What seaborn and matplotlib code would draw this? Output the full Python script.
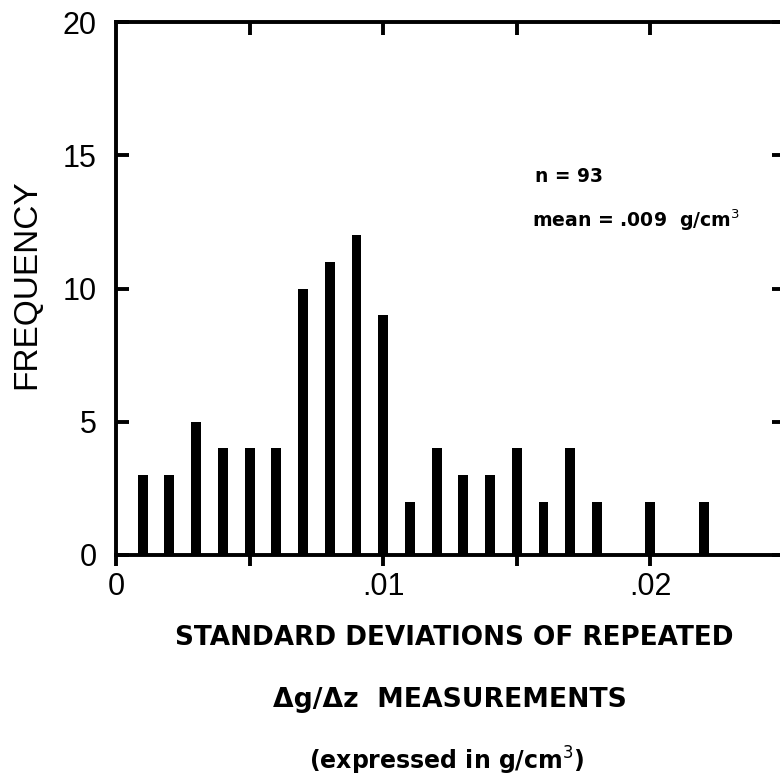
import matplotlib
matplotlib.use("Agg")
import matplotlib.pyplot as plt
import seaborn as sns
import pandas as pd
from matplotlib.ticker import FixedLocator, NullFormatter

# ---- data ----
std_dev = [0.001, 0.002, 0.003, 0.004, 0.005, 0.006, 0.007, 0.008, 0.009, 0.010, 0.011,
           0.012, 0.013, 0.014, 0.015, 0.016, 0.017, 0.018, 0.019, 0.020, 0.021, 0.022]
frequency = [3, 3, 5, 4, 4, 4, 10, 11, 12, 9, 2, 4, 3, 3, 4, 2, 4, 2, 0, 2, 0, 2]
x_tick_values = [0, 0.01, 0.02]
x_tick_labels = ["0", ".01", ".02"]
y_tick_values = [0, 5, 10, 15, 20]

df = pd.DataFrame({"sd": std_dev, "freq": frequency})

sns.set_style("white")
plt.rcParams["font.family"] = ["Liberation Sans", "DejaVu Sans"]
plt.rcParams["text.color"] = "black"
plt.rcParams["xtick.color"] = "black"
plt.rcParams["ytick.color"] = "black"
plt.rcParams["xtick.labelcolor"] = "black"
plt.rcParams["ytick.labelcolor"] = "black"

fig = plt.figure(figsize=(7.8, 7.76), dpi=100)
ax = fig.add_axes([116 / 780, 221 / 776, (784 - 116) / 780, (754 - 221) / 776])

sns.barplot(data=df, x="sd", y="freq", native_scale=True, width=0.37,
            color="black", edgecolor="black", linewidth=0, ax=ax)

ax.set_xlim(0, 0.025)
ax.set_ylim(0, 20)
ax.set_xlabel("")
ax.set_ylabel("")

for s in ax.spines.values():
    s.set_linewidth(2.8)
    s.set_color("black")
    s.set_visible(True)

# bottom x ticks (outward)
ax.xaxis.set_major_locator(FixedLocator(x_tick_values))
ax.set_xticklabels(x_tick_labels)
ax.xaxis.set_minor_locator(FixedLocator([0.005, 0.015]))
ax.tick_params(axis="x", which="both", bottom=True, top=False, direction="out",
               length=8, width=2.8, color="black", labelcolor="black",
               labelsize=22, pad=4)

# top ticks (inward)
sec = ax.secondary_xaxis("top")
sec.xaxis.set_major_locator(FixedLocator([0.005, 0.01, 0.015, 0.02]))
sec.xaxis.set_major_formatter(NullFormatter())
sec.tick_params(axis="x", direction="in", length=9, width=2.8, color="black")
sec.spines["top"].set_visible(False)

# y ticks both sides, inward
ax.yaxis.set_major_locator(FixedLocator(y_tick_values))
ax.set_yticklabels([str(v) for v in y_tick_values])
ax.tick_params(axis="y", left=True, right=True, direction="in", length=9, width=2.8,
               color="black", labelcolor="black", labelsize=22, pad=14)

fig.text(27 / 780, 1 - 284 / 776, "FREQUENCY", rotation=90, ha="center", va="center",
         fontsize=24, color="black")

annot_font = ["DejaVu Sans"]
fig.text(535 / 780, 1 - 177 / 776, "n = 93", ha="left", va="center",
         fontsize=13.4, fontweight="bold", family=annot_font, color="black")
fig.text(532 / 780, 1 - 220 / 776, "mean = .009  g/cm$^{3}$", ha="left", va="center",
         fontsize=13.6, fontweight="bold", family=annot_font, color="black")

fig.text(454 / 780, 1 - 638 / 776, "STANDARD DEVIATIONS OF REPEATED", ha="center",
         va="center", fontsize=18.9, fontweight="bold", family=annot_font, color="black")
fig.text(450 / 780, 1 - 700 / 776, "\u0394g/\u0394z  MEASUREMENTS", ha="center",
         va="center", fontsize=19.2, fontweight="bold", family=annot_font, color="black")
fig.text(447 / 780, 1 - 761 / 776, "(expressed in g/cm$^{3}$)", ha="center",
         va="center", fontsize=17, fontweight="bold", family=annot_font, color="black")

fig.savefig("out.png", dpi=100)
